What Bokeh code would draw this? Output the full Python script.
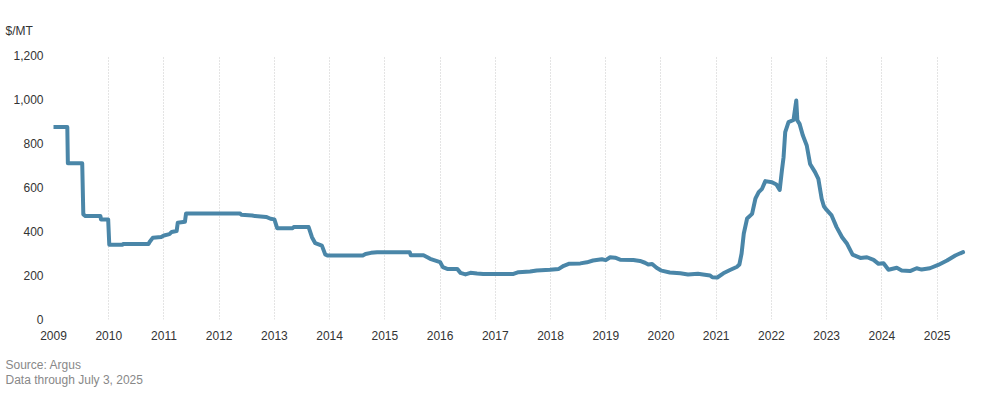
from bokeh.plotting import figure
from bokeh.models import FixedTicker, NumeralTickFormatter, Title, Range1d
from bokeh.embed import file_html
from bokeh.resources import INLINE

# Decimal year and price ($/MT)
years = [2009.00, 2009.25, 2009.26, 2009.52, 2009.54, 2009.58, 2009.85, 2009.86, 2009.99,
         2010.01, 2010.25, 2010.26, 2010.72, 2010.74, 2010.80, 2010.95, 2011.00, 2011.10,
         2011.14, 2011.23, 2011.25, 2011.38, 2011.40, 2012.38, 2012.40, 2012.60, 2012.65,
         2012.85, 2012.93, 2013.00, 2013.05, 2013.33, 2013.35, 2013.62, 2013.68, 2013.74,
         2013.86, 2013.92, 2013.96, 2014.60, 2014.65, 2014.75, 2014.86, 2015.45, 2015.47,
         2015.70, 2015.77, 2015.82, 2016.00, 2016.05, 2016.13, 2016.31, 2016.37, 2016.46,
         2016.55, 2016.67, 2016.78, 2017.03, 2017.33, 2017.42, 2017.63, 2017.75, 2017.99,
         2018.15, 2018.24, 2018.33, 2018.54, 2018.66, 2018.77, 2018.93,
         2019.00, 2019.08, 2019.17, 2019.26, 2019.50, 2019.62, 2019.71, 2019.77, 2019.84,
         2019.92, 2020.01, 2020.16, 2020.35, 2020.49, 2020.67, 2020.76, 2020.89, 2020.93,
         2021.02, 2021.13, 2021.25, 2021.38, 2021.42, 2021.46, 2021.50, 2021.56, 2021.65,
         2021.71, 2021.77, 2021.83, 2021.89, 2022.01, 2022.09, 2022.15, 2022.19, 2022.22,
         2022.25, 2022.31, 2022.40, 2022.45, 2022.47, 2022.51, 2022.57, 2022.64, 2022.70,
         2022.79, 2022.85, 2022.91, 2022.95, 2023.00, 2023.09, 2023.18, 2023.28, 2023.37,
         2023.47, 2023.61, 2023.73, 2023.85, 2023.94, 2024.03, 2024.12, 2024.27, 2024.36,
         2024.51, 2024.63, 2024.72, 2024.87, 2025.02, 2025.18, 2025.33, 2025.42, 2025.47]
price = [875, 875, 710, 710, 478, 470, 470, 455, 455,
         340, 340, 343, 343, 352, 372, 375, 382, 388,
         398, 402, 440, 444, 482, 482, 476, 473, 470,
         466, 458, 455, 415, 415, 420, 420, 374, 347,
         336, 296, 291, 291, 298, 303, 306, 306, 292,
         292, 283, 276, 261, 238, 230, 230, 212, 205,
         212, 209, 207, 207, 207, 215, 218, 223, 226,
         230, 244, 253, 255, 260, 268, 274,
         270, 283, 281, 272, 270, 266, 258, 250, 252,
         235, 222, 214, 210, 205, 208, 205, 200, 192,
         191, 210, 225, 240, 250, 300, 391, 459, 480,
         549, 579, 594, 629, 624, 614, 589, 677, 738,
         852, 897, 907, 995, 905, 889, 836, 791, 707,
         670, 639, 549, 515, 498, 473, 420, 374, 344,
         295, 280, 283, 271, 253, 256, 226, 235, 223,
         220, 233, 227, 233, 248, 268, 291, 301, 306]

year_ticks = list(range(2009, 2026))
y_ticks = [0, 200, 400, 600, 800, 1000, 1200]

FONT = "Liberation Sans"

p = figure(frame_width=925, frame_height=264, output_backend="svg", toolbar_location=None,
           x_range=Range1d(2009, 2025.75), y_range=Range1d(0, 1200),
           min_border_left=53, min_border_right=14, min_border_top=55, min_border_bottom=0)
p.outline_line_color = None
p.background_fill_color = "white"

p.line(years, price, line_width=4, line_color="#4a86a8", line_join="round", line_cap="round")

# axes
p.xaxis.ticker = FixedTicker(ticks=year_ticks)
p.xaxis.formatter = NumeralTickFormatter(format="0")
p.yaxis.ticker = FixedTicker(ticks=y_ticks)
p.yaxis.formatter = NumeralTickFormatter(format="0,0")
for ax in (p.xaxis[0], p.yaxis[0]):
    ax.axis_line_color = None
    ax.major_tick_line_color = None
    ax.minor_tick_line_color = None
    ax.major_tick_out = 0
    ax.major_tick_in = 0
    ax.minor_tick_out = 0
    ax.major_label_text_font = FONT
    ax.major_label_text_font_size = "12px"
    ax.major_label_text_color = "#333333"
p.yaxis.major_label_standoff = 10
p.xaxis.major_label_standoff = 11

p.ygrid.visible = False
p.xgrid.grid_line_color = "#c8c8c8"
p.xgrid.grid_line_dash = "1 2"
p.xgrid.grid_line_width = 1

p.title.text = "$/MT"
p.title.align = "left"
p.title.offset = -48
p.title.text_font = FONT
p.title.text_font_size = "12px"
p.title.text_font_style = "normal"
p.title.text_color = "#333333"
p.title.standoff = 36

note = Title(text="Source: Argus\nData through July 3, 2025", align="left", offset=-48,
             text_font=FONT, text_font_size="12px", text_font_style="normal",
             text_color="#888888", standoff=27, text_line_height=1.1)
p.add_layout(note, "below")

open("out.html", "w").write(file_html(p, INLINE))
